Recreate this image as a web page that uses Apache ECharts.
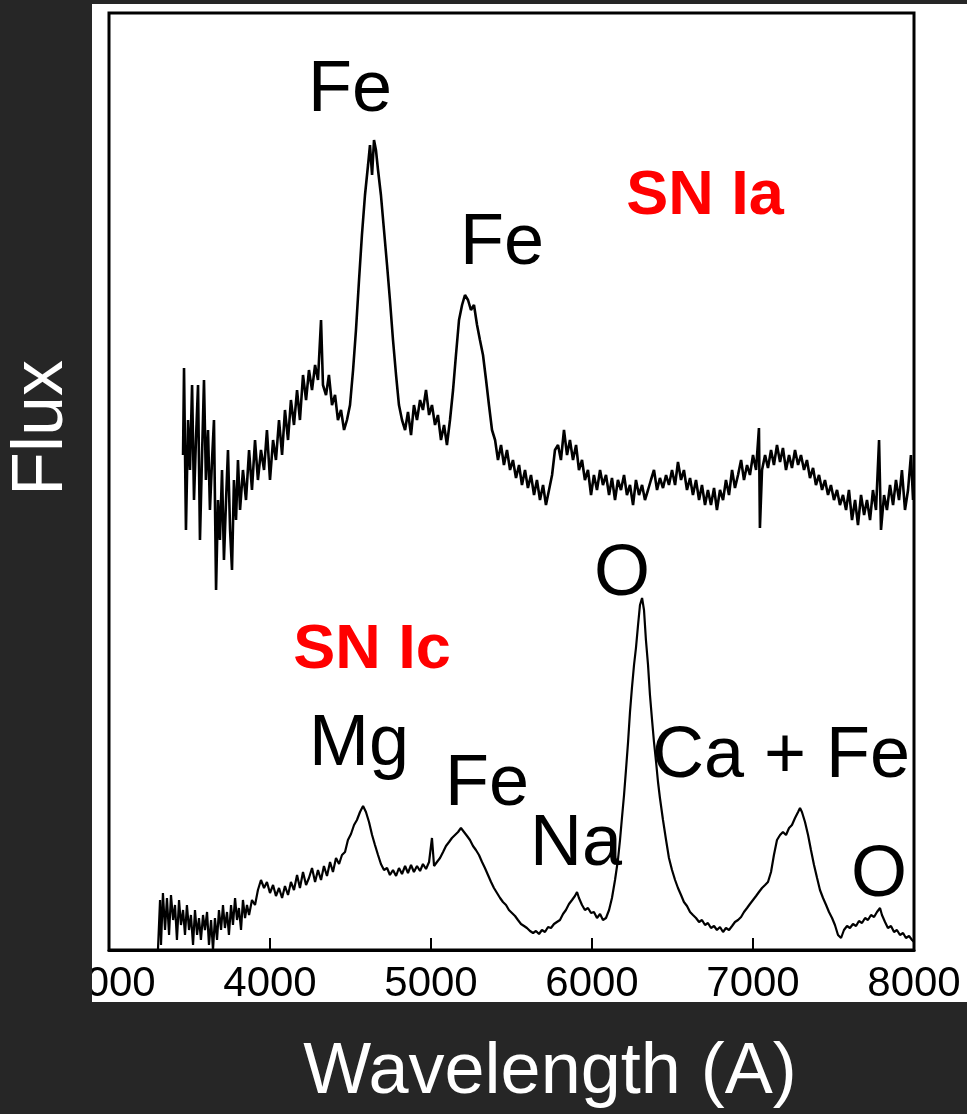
<!DOCTYPE html>
<html>
<head>
<meta charset="utf-8">
<script src="https://cdn.jsdelivr.net/npm/echarts@6/dist/echarts.min.js"></script>
<style>
  html, body { margin: 0; padding: 0; background: #262626; }
  #chart { width: 967px; height: 1114px; }
</style>
</head>
<body>
<div id="chart"></div>
<script>
// 波长刻度
const xTicks = [3000, 4000, 5000, 6000, 7000, 8000]

// SN Ia 光谱 [波长(A), 流量]
const snIa = [
  [3460, 495], [3466, 582], [3478, 420], [3491, 530], [3503, 480], [3516, 565], [3528, 450], [3540, 510],
  [3553, 565], [3565, 410], [3578, 495], [3590, 570], [3602, 470], [3615, 520], [3627, 440], [3640, 490],
  [3652, 530], [3665, 360], [3677, 450], [3689, 410], [3702, 480], [3714, 390], [3727, 450], [3739, 500],
  [3752, 420], [3764, 380], [3776, 470], [3789, 430], [3801, 490], [3814, 440], [3832, 480], [3851, 450],
  [3870, 500], [3888, 460], [3907, 510], [3925, 470], [3944, 500], [3963, 480], [3981, 520], [4000, 470],
  [4019, 510], [4037, 490], [4056, 530], [4075, 495], [4093, 540], [4112, 510], [4130, 550], [4149, 525],
  [4168, 560], [4186, 530], [4205, 575], [4224, 550], [4242, 580], [4261, 560], [4280, 585], [4298, 570],
  [4317, 630], [4329, 565], [4348, 555], [4366, 575], [4385, 545], [4404, 555], [4422, 530], [4441, 540],
  [4460, 520], [4478, 530], [4497, 545], [4516, 580], [4534, 620], [4553, 670], [4571, 715], [4590, 755],
  [4609, 785], [4621, 805], [4634, 775], [4646, 810], [4658, 800], [4671, 780], [4689, 755], [4708, 720],
  [4727, 685], [4745, 650], [4764, 610], [4783, 575], [4801, 545], [4820, 530], [4839, 520], [4857, 538],
  [4876, 515], [4894, 545], [4913, 530], [4932, 550], [4950, 540], [4969, 560], [4988, 535], [5006, 545],
  [5025, 525], [5043, 535], [5062, 510], [5081, 525], [5099, 505], [5118, 530], [5137, 560], [5155, 595],
  [5174, 630], [5193, 645], [5211, 655], [5230, 650], [5248, 640], [5267, 645], [5286, 625], [5304, 610],
  [5323, 595], [5342, 570], [5360, 545], [5379, 520], [5398, 510], [5416, 490], [5435, 505], [5453, 485],
  [5472, 500], [5491, 480], [5509, 490], [5528, 472], [5547, 485], [5565, 465], [5584, 480], [5602, 462],
  [5621, 475], [5640, 455], [5658, 470], [5677, 450], [5696, 465], [5714, 445], [5733, 460], [5752, 475],
  [5770, 500], [5789, 505], [5807, 490], [5826, 520], [5845, 495], [5863, 510], [5882, 490], [5901, 505],
  [5919, 480], [5938, 490], [5956, 470], [5975, 480], [5994, 455], [6012, 475], [6031, 460], [6050, 480],
  [6068, 465], [6087, 475], [6106, 455], [6124, 472], [6143, 450], [6161, 470], [6180, 460], [6199, 475],
  [6217, 455], [6236, 465], [6255, 445], [6273, 470], [6292, 455], [6311, 465], [6329, 450], [6348, 460],
  [6366, 470], [6385, 480], [6404, 460], [6422, 472], [6441, 462], [6460, 475], [6478, 465], [6497, 480],
  [6516, 465], [6534, 488], [6553, 470], [6571, 480], [6590, 460], [6609, 472], [6627, 455], [6646, 470],
  [6665, 450], [6683, 465], [6702, 445], [6720, 460], [6739, 445], [6758, 462], [6776, 440], [6795, 460],
  [6814, 450], [6832, 470], [6851, 455], [6870, 480], [6888, 462], [6907, 475], [6926, 490], [6944, 470],
  [6963, 485], [6981, 475], [7000, 495], [7019, 480], [7037, 522], [7043, 422], [7056, 480], [7075, 495],
  [7093, 482], [7112, 500], [7130, 485], [7149, 505], [7168, 488], [7186, 502], [7205, 480], [7224, 495],
  [7242, 482], [7261, 500], [7280, 485], [7298, 495], [7317, 480], [7335, 490], [7354, 472], [7373, 482],
  [7391, 465], [7410, 475], [7429, 460], [7447, 470], [7466, 455], [7484, 465], [7503, 450], [7522, 460],
  [7540, 445], [7559, 455], [7578, 440], [7596, 460], [7615, 430], [7634, 450], [7652, 425], [7671, 455],
  [7690, 435], [7708, 450], [7727, 430], [7745, 460], [7764, 440], [7783, 510], [7795, 420], [7814, 455],
  [7832, 440], [7851, 465], [7870, 445], [7888, 470], [7907, 450], [7925, 480], [7944, 440], [7963, 460],
  [7981, 495], [7994, 450]
]

// SN Ic 光谱 [波长(A), 流量]
const snIc = [
  [3304, 0], [3317, 50], [3323, 5], [3335, 57], [3348, 20], [3360, 52], [3373, 15], [3385, 55],
  [3398, 30], [3410, 45], [3422, 10], [3435, 50], [3447, 25], [3460, 40], [3472, 15], [3484, 45],
  [3497, 20], [3509, 35], [3522, 5], [3534, 40], [3547, 15], [3559, 32], [3571, 10], [3584, 35],
  [3596, 20], [3609, 38], [3621, 5], [3634, 30], [3646, 0], [3658, 32], [3671, 10], [3683, 40],
  [3696, 20], [3708, 45], [3720, 22], [3733, 38], [3745, 15], [3758, 45], [3770, 25], [3783, 52],
  [3795, 30], [3807, 42], [3820, 20], [3832, 50], [3845, 32], [3857, 45], [3870, 35], [3888, 50],
  [3907, 45], [3925, 60], [3944, 70], [3963, 62], [3981, 68], [4000, 57], [4019, 65], [4037, 54],
  [4056, 62], [4075, 52], [4093, 64], [4112, 55], [4130, 68], [4149, 60], [4168, 75], [4186, 62],
  [4205, 78], [4224, 65], [4242, 72], [4261, 82], [4280, 68], [4298, 80], [4317, 70], [4335, 84],
  [4354, 74], [4373, 88], [4391, 78], [4410, 92], [4429, 86], [4447, 95], [4466, 98], [4484, 110],
  [4503, 116], [4522, 125], [4540, 130], [4559, 138], [4578, 144], [4596, 138], [4615, 128], [4634, 115],
  [4652, 105], [4671, 95], [4689, 86], [4708, 80], [4727, 82], [4745, 75], [4764, 80], [4783, 74],
  [4801, 82], [4820, 76], [4839, 84], [4857, 77], [4876, 85], [4894, 78], [4913, 84], [4932, 79],
  [4950, 86], [4969, 81], [4988, 88], [5006, 112], [5019, 84], [5037, 88], [5056, 92], [5075, 98],
  [5093, 104], [5112, 108], [5130, 112], [5149, 115], [5168, 118], [5186, 122], [5205, 118], [5224, 114],
  [5242, 110], [5261, 104], [5279, 100], [5298, 95], [5317, 88], [5335, 82], [5354, 75], [5373, 68],
  [5391, 62], [5410, 57], [5429, 52], [5447, 48], [5466, 45], [5484, 40], [5503, 37], [5522, 34],
  [5540, 30], [5559, 26], [5578, 24], [5596, 22], [5615, 19], [5634, 17], [5652, 19], [5671, 16],
  [5689, 20], [5708, 18], [5727, 23], [5745, 22], [5764, 26], [5782, 28], [5801, 30], [5820, 36],
  [5838, 40], [5857, 46], [5876, 50], [5894, 54], [5907, 58], [5919, 52], [5938, 45], [5956, 40],
  [5975, 42], [5994, 37], [6012, 38], [6031, 32], [6050, 36], [6068, 30], [6087, 32], [6106, 40],
  [6124, 52], [6143, 70], [6161, 90], [6174, 110], [6186, 132], [6199, 155], [6211, 180], [6224, 208],
  [6236, 238], [6248, 262], [6261, 285], [6273, 302], [6286, 325], [6298, 345], [6311, 352], [6323, 340],
  [6335, 310], [6348, 285], [6360, 255], [6373, 230], [6385, 208], [6398, 188], [6410, 168], [6422, 152],
  [6441, 130], [6460, 110], [6478, 92], [6497, 80], [6516, 70], [6534, 62], [6553, 55], [6571, 48],
  [6590, 44], [6609, 38], [6627, 35], [6646, 32], [6665, 28], [6683, 30], [6702, 25], [6720, 27],
  [6739, 22], [6758, 24], [6776, 20], [6795, 23], [6814, 18], [6832, 22], [6851, 20], [6870, 24],
  [6888, 28], [6907, 30], [6926, 33], [6944, 38], [6963, 42], [6981, 46], [7000, 50], [7019, 54],
  [7037, 58], [7056, 62], [7075, 65], [7093, 68], [7112, 78], [7130, 95], [7149, 110], [7168, 115],
  [7186, 118], [7205, 115], [7224, 122], [7242, 125], [7261, 132], [7280, 138], [7292, 142], [7304, 138],
  [7323, 128], [7342, 115], [7360, 100], [7379, 85], [7398, 72], [7416, 60], [7435, 52], [7454, 45],
  [7472, 38], [7491, 32], [7509, 25], [7528, 15], [7547, 12], [7565, 20], [7584, 24], [7602, 22],
  [7621, 26], [7640, 24], [7658, 29], [7677, 27], [7696, 32], [7714, 30], [7733, 35], [7752, 33],
  [7770, 38], [7789, 42], [7801, 35], [7820, 28], [7838, 22], [7857, 24], [7876, 18], [7894, 20],
  [7913, 15], [7932, 17], [7950, 12], [7969, 14], [7988, 10], [8000, 8]
]

// 谱线标注文字
const lineLabels = ['Fe', 'Fe', 'O', 'Mg', 'Fe', 'Na', 'Ca + Fe', 'O']
const typeLabels = ['SN Ia', 'SN Ic']

const font = 'Liberation Sans, Arial, sans-serif'

const textEl = (text, x, y, size, color, weight) => ({
  type: 'text',
  x: x,
  y: y,
  z: 50,
  style: {
    text: text,
    fill: color,
    font: (weight || 'normal') + ' ' + size + 'px ' + font,
    textAlign: 'center',
    textVerticalAlign: 'middle'
  }
})

const option = {
  backgroundColor: '#262626',
  animation: false,
  grid: {
    left: 109,
    right: 53,
    top: 13,
    bottom: 164,
    show: true,
    borderColor: '#000',
    borderWidth: 3,
    backgroundColor: 'transparent'
  },
  xAxis: {
    type: 'value',
    min: xTicks[0],
    max: xTicks[xTicks.length - 1],
    interval: 1000,
    axisLine: { show: true, lineStyle: { color: '#000', width: 3 } },
    axisTick: { show: true, inside: true, length: 12, lineStyle: { color: '#000', width: 2 } },
    axisLabel: {
      show: true,
      showMinLabel: true,
      showMaxLabel: true,
      color: '#000',
      fontSize: 42,
      fontFamily: font,
      margin: 13,
      formatter: (v) => String(v)
    },
    splitLine: { show: false }
  },
  yAxis: {
    type: 'value',
    min: 0,
    max: 937,
    axisLine: { show: false },
    axisTick: { show: false },
    axisLabel: { show: false },
    splitLine: { show: false }
  },
  graphic: [
    // 白色图纸区域
    { type: 'rect', z: -10, shape: { x: 92, y: 4, width: 875, height: 998 }, style: { fill: '#fff' } },
    // 左侧深色边，裁掉 3000 标签
    { type: 'rect', z: 40, shape: { x: 0, y: 0, width: 92, height: 1114 }, style: { fill: '#262626' } },
    textEl(lineLabels[0], 350, 91, 72, '#000'),
    textEl(lineLabels[1], 502, 244, 72, '#000'),
    textEl(typeLabels[0], 705, 197, 63, '#ff0000', 'bold'),
    textEl(lineLabels[2], 622, 575, 72, '#000'),
    textEl(typeLabels[1], 372, 651, 63, '#ff0000', 'bold'),
    textEl(lineLabels[3], 359, 745, 72, '#000'),
    textEl(lineLabels[4], 487, 785, 72, '#000'),
    textEl(lineLabels[5], 576, 845, 72, '#000'),
    textEl(lineLabels[6], 781, 757, 72, '#000'),
    textEl(lineLabels[7], 879, 876, 72, '#000'),
    {
      type: 'text',
      x: 42,
      y: 428,
      z: 60,
      rotation: Math.PI / 2,
      style: {
        text: 'Flux',
        fill: '#fff',
        font: 'normal 72px ' + font,
        textAlign: 'center',
        textVerticalAlign: 'middle'
      }
    },
    {
      type: 'text',
      x: 550,
      y: 1073,
      z: 60,
      style: {
        text: 'Wavelength (A)',
        fill: '#fff',
        font: 'normal 72px ' + font,
        textAlign: 'center',
        textVerticalAlign: 'middle'
      }
    }
  ],
  series: [
    {
      name: 'SN Ia',
      type: 'line',
      data: snIa,
      showSymbol: false,
      lineStyle: { color: '#000', width: 2.6 },
      z: 5
    },
    {
      name: 'SN Ic',
      type: 'line',
      data: snIc,
      showSymbol: false,
      lineStyle: { color: '#000', width: 2.2 },
      z: 5
    }
  ]
}

const chart = echarts.init(document.getElementById('chart'))
chart.setOption(option)
window.addEventListener('resize', function () {
  chart.resize()
})
</script>
</body>
</html>
